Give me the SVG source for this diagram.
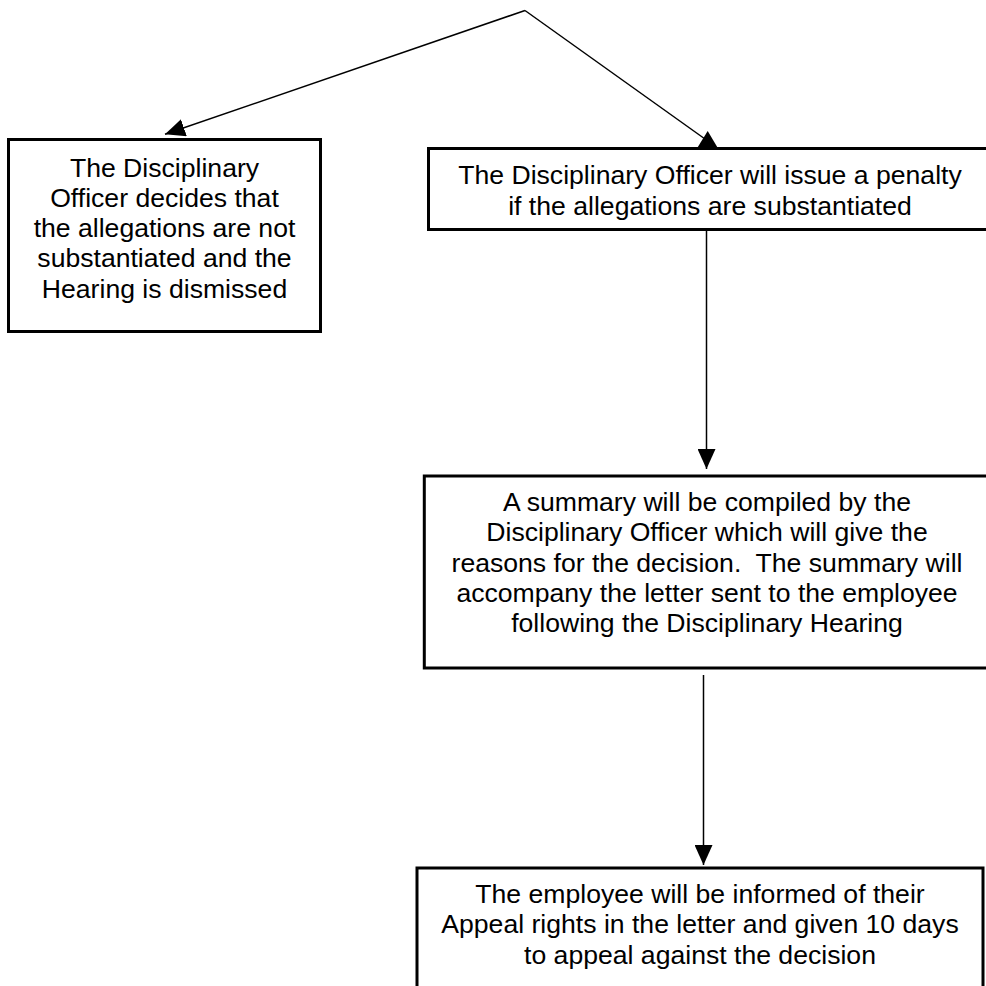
<svg xmlns="http://www.w3.org/2000/svg" width="986" height="986" viewBox="0 0 986 986">
  <style>
    .box { fill: #ffffff; stroke: #000000; stroke-width: 3; }
    .conn { stroke: #000000; stroke-width: 1.5; fill: none; }
    .head { fill: #000000; stroke: none; }
    text { font-family: "Liberation Sans", Arial, sans-serif; font-size: 26.6px; fill: #000000; text-anchor: middle; white-space: pre; }
  </style>
  <defs>
    <marker id="arrow" markerUnits="userSpaceOnUse" markerWidth="20" markerHeight="18" viewBox="0 0 20 18" refX="20" refY="9" orient="auto">
      <path d="M0,0 L20,9 L0,18 Z" fill="#000000"/>
    </marker>
  </defs>
  <rect width="986" height="986" fill="#ffffff"/>

  <g id="connectors">
    <line class="conn" x1="525" y1="10.5" x2="165" y2="134.3" marker-end="url(#arrow)"/>
    <line class="conn" x1="525" y1="10.5" x2="705" y2="139"/>
    <polygon class="head" points="707.7,131 697.5,147.5 717.5,147.5"/>
    <line class="conn" x1="706.5" y1="231" x2="706.5" y2="469" marker-end="url(#arrow)"/>
    <line class="conn" x1="703.5" y1="675" x2="703.5" y2="865" marker-end="url(#arrow)"/>
  </g>

  <g id="node-dismissed">
    <rect class="box" x="8.5" y="139.5" width="312" height="192"/>
    <text x="164.5" y="176.5">The Disciplinary</text>
    <text x="164.5" y="206.8">Officer decides that</text>
    <text x="164.5" y="237.1">the allegations are not</text>
    <text x="164.5" y="267.4">substantiated and the</text>
    <text x="164.5" y="297.7">Hearing is dismissed</text>
  </g>

  <g id="node-penalty">
    <rect class="box" x="428.5" y="148.5" width="563" height="81"/>
    <text x="710" y="184.4">The Disciplinary Officer will issue a penalty</text>
    <text x="710" y="214.7">if the allegations are substantiated</text>
  </g>

  <g id="node-summary">
    <rect class="box" x="424.3" y="476" width="566" height="192"/>
    <text x="707" y="511">A summary will be compiled by the</text>
    <text x="707" y="541.3">Disciplinary Officer which will give the</text>
    <text x="707" y="571.6">reasons for the decision.  The summary will</text>
    <text x="707" y="601.9">accompany the letter sent to the employee</text>
    <text x="707" y="632.2">following the Disciplinary Hearing</text>
  </g>

  <g id="node-appeal">
    <rect class="box" x="417" y="868" width="566" height="130"/>
    <text x="700" y="903">The employee will be informed of their</text>
    <text x="700" y="933.3">Appeal rights in the letter and given 10 days</text>
    <text x="700" y="963.6">to appeal against the decision</text>
  </g>
</svg>
